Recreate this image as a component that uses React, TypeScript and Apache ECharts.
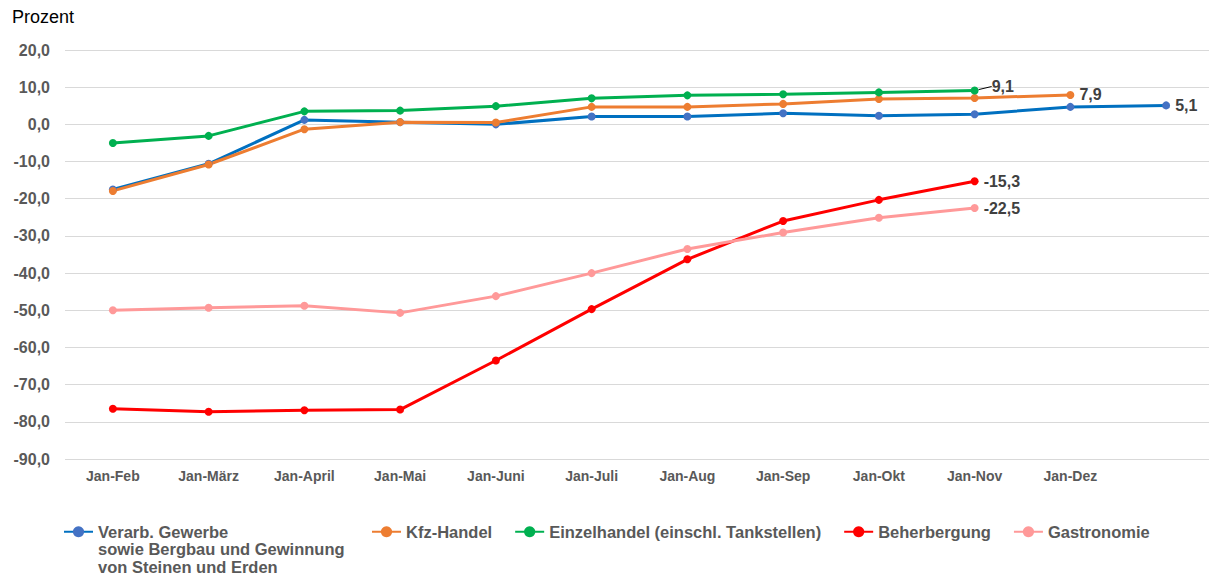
import React, { useEffect, useRef } from "react";
import * as echarts from "echarts";

const categories = ["Jan-Feb", "Jan-März", "Jan-April", "Jan-Mai", "Jan-Juni", "Jan-Juli", "Jan-Aug", "Jan-Sep", "Jan-Okt", "Jan-Nov", "Jan-Dez", ""];
const verarbGewerbe = [-17.5, -10.6, 1.2, 0.6, 0.0, 2.1, 2.1, 3.0, 2.3, 2.7, 4.7, 5.1];
const kfzHandel = [-17.9, -10.8, -1.3, 0.6, 0.5, 4.7, 4.7, 5.5, 6.8, 7.1, 7.9, null];
const einzelhandel = [-5.0, -3.1, 3.5, 3.7, 4.9, 7.0, 7.8, 8.1, 8.6, 9.1, null, null];
const beherbergung = [-76.5, -77.3, -76.9, -76.7, -63.5, -49.7, -36.3, -26.0, -20.3, -15.3, null, null];
const gastronomie = [-50.0, -49.3, -48.8, -50.7, -46.2, -40.0, -33.5, -29.1, -25.1, -22.5, null, null];

const NAME_VERARB = "Verarb. Gewerbe sowie Bergbau und Gewinnung von Steinen und Erden";
const NAME_KFZ = "Kfz-Handel";
const NAME_EINZEL = "Einzelhandel (einschl. Tankstellen)";
const NAME_BEHER = "Beherbergung";
const NAME_GASTRO = "Gastronomie";

const FONT = "'Liberation Sans', Arial, sans-serif";
const fmt = (v: number) => v.toFixed(1).replace(".", ",");

function buildData(values: (number | null)[], labelExtra: any = {}) {
  let last = -1;
  values.forEach((v, i) => {
    if (v !== null) last = i;
  });
  return values.map((v, i) =>
    i === last
      ? {
          value: v,
          label: {
            show: true,
            position: "right",
            distance: 5,
            formatter: (p: any) => fmt(p.value),
            fontFamily: FONT,
            fontSize: 16,
            fontWeight: "bold",
            color: "#404040",
            ...labelExtra,
          },
        }
      : v
  );
}

function lineSeries(name: string, values: (number | null)[], lineColor: string, markerColor: string, labelExtra: any = {}, extra: any = {}) {
  return {
    name,
    type: "line",
    data: buildData(values, labelExtra),
    symbol: "circle",
    symbolSize: 8,
    lineStyle: { color: lineColor, width: 3 },
    itemStyle: { color: markerColor },
    connectNulls: false,
    ...extra,
  };
}

const legendText = { fontFamily: FONT, fontSize: 16.5, fontWeight: "bold", color: "#595959", lineHeight: 17.5 };

export default function App() {
  const ref = useRef<HTMLDivElement>(null);
  useEffect(() => {
    document.body.style.margin = "0";
    const chart = echarts.init(ref.current!, null, { renderer: "svg" });
    chart.setOption({
      animation: false,
      backgroundColor: "#ffffff",
      title: {
        text: "Prozent",
        left: 7,
        top: 3,
        textStyle: { fontFamily: FONT, fontSize: 18, fontWeight: "normal", color: "#000000" },
      },
      grid: {
        left: 65,
        right: -5,
        top: 50,
        bottom: 117,
        containLabel: false,
        outerBoundsMode: "none",
      },
      legend: [
        {
          data: [NAME_VERARB],
          left: 58,
          top: 483,
          itemWidth: 29,
          itemHeight: 14,
          formatter: () => "\n\nVerarb. Gewerbe\nsowie Bergbau und Gewinnung\nvon Steinen und Erden",
          textStyle: legendText,
        },
        {
          data: [NAME_KFZ, NAME_EINZEL, NAME_BEHER, NAME_GASTRO],
          left: 366,
          top: 518,
          itemGap: 22,
          itemWidth: 29,
          itemHeight: 14,
          textStyle: legendText,
        },
      ],
      xAxis: {
        type: "category",
        data: categories,
        boundaryGap: true,
        axisLine: { show: false },
        axisTick: { show: false },
        axisLabel: {
          interval: 0,
          margin: 10,
          fontFamily: FONT,
          fontSize: 14,
          fontWeight: "bold",
          color: "#595959",
        },
      },
      yAxis: {
        type: "value",
        min: -90,
        max: 20,
        interval: 10,
        axisLine: { show: false },
        axisTick: { show: false },
        splitLine: { lineStyle: { color: "#d9d9d9", width: 1 } },
        axisLabel: {
          margin: 15,
          formatter: (v: number) => fmt(v),
          fontFamily: FONT,
          fontSize: 16,
          fontWeight: "bold",
          color: "#595959",
        },
      },
      series: [
        lineSeries(NAME_VERARB, verarbGewerbe, "#0070C0", "#4472C4"),
        lineSeries(NAME_KFZ, kfzHandel, "#ED7D31", "#ED7D31"),
        lineSeries(NAME_EINZEL, einzelhandel, "#00B050", "#00B050", {}, {
          labelLayout: { dx: 8, dy: -4 },
          labelLine: { show: true, lineStyle: { color: "#000000", width: 1 } },
        }),
        lineSeries(NAME_BEHER, beherbergung, "#FF0000", "#FF0000"),
        lineSeries(NAME_GASTRO, gastronomie, "#FF9999", "#FF9999"),
      ],
    });
    return () => chart.dispose();
  }, []);
  return <div ref={ref} style={{ width: 1209, height: 576 }} />;
}
